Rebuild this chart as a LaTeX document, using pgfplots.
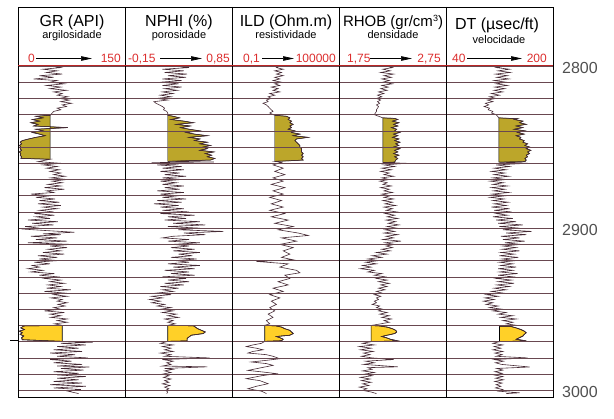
\documentclass[border=0pt]{standalone}
\usepackage{pgfplots}
\usepackage{pgfplotstable}
\pgfplotsset{compat=1.18}
\usetikzlibrary{arrows.meta}
\usepackage{fontspec}
\setmainfont{Liberation Sans}

\definecolor{curvec}{RGB}{70,42,52}
\definecolor{gridc}{RGB}{105,72,80}
\definecolor{olivef}{RGB}{188,166,42}
\definecolor{yellowf}{RGB}{255,208,40}
\definecolor{scalered}{RGB}{220,45,45}
\definecolor{depthc}{RGB}{80,80,80}

\pgfplotstableread{
d v
2800 45
2801 60
2802 35
2803 55
2804 40
2805 62
2806 30
2807 50
2808 22
2809 55
2810 45
2811 65
2812 40
2813 60
2814 45
2815 68
2816 50
2817 62
2818 55
2819 70
2820 58
2821 72
2822 60
2823 75
2824 62
2825 68
2826 55
2827 60
2828 50
2829 48
2830.4 45
2831 25
2832 35
2833 20
2834 30
2835 18
2836 28
2837 22
2838 70
2839 25
2840 35
2841 20
2842 30
2843 38
2844 25
2845 15
2846 6
2847 3
2848 5
2849 2
2850 4
2851 3
2852 5
2853 2
2854 4
2855 3
2856 5
2857 4
2857.5 45
2859 28
2860 60
2861 35
2862 55
2863 40
2864 58
2865 45
2866 60
2867 50
2868 66
2869 46
2870 69
2871 48
2872 62
2873 42
2874 60
2875 37
2876 65
2877 40
2878 50
2879 18
2880 46
2881 25
2882 52
2883 30
2884 58
2885 28
2886 60
2887 35
2888 55
2889 30
2890 50
2891 23
2892 51
2893 25
2894 45
2895 14
2896 56
2897 20
2898 50
2899 10
2900 30
2900.5 5
2901.5 40
2902.5 79
2903.5 35
2904 60
2905 18
2906 55
2907 25
2908 69
2909 14
2910 74
2911 45
2912 69
2913 42
2914 60
2915 35
2916 65
2917 28
2918 55
2919 30
2920 56
2921 23
2922 45
2923 20
2924 30
2925 14
2926 35
2927 18
2928 51
2929 30
2930 55
2931 37
2932 60
2933 45
2934 65
2935 42
2936 60
2937 40
2938 74
2939 37
2940 65
2941 50
2942 69
2943 46
2944 62
2945 55
2946 69
2947 56
2948 66
2949 50
2950 60
2951 37
2952 65
2953 45
2954 60
2955 46
2956 69
2957 55
2958 69
2959 51
2959.9 62
2960.3 8
2961.5 4
2962.5 9
2963.5 2
2964.5 6
2965.5 3
2966.5 8
2967.5 5
2968.8 6
2969.8 62
2970.3 105
2971 60
2972 95
2973 55
2974 85
2975 50
2976 90
2977 45
2978 80
2979 55
2980 98
2981 45
2982 75
2983 50
2984 90
2985 55
2985.6 100
2986.5 60
2987.5 92
2988.5 50
2989.5 85
2990.5 55
2991.5 95
2992.5 55
2993.5 85
2994.5 50
2995.5 90
2996.5 45
2997.5 95
2998.5 50
2999.5 88
3000.5 70
3002 85
}\grdata

\pgfplotstableread{
d v
2800 0.30
2801 0.45
2802 0.20
2803 0.40
2804 0.22
2805 0.43
2806 0.25
2807 0.42
2808 0.20
2809 0.38
2810 0.18
2811 0.35
2812 0.20
2813 0.38
2814 0.22
2815 0.34
2816 0.20
2817 0.30
2818 0.18
2819 0.28
2820 0.15
2821 0.25
2822 0.12
2823 0.14
2824 0.17
2825 0.20
2826 0.22
2827 0.21
2828 0.24
2829 0.25
2830.4 0.25
2831 0.30
2832 0.36
2833 0.28
2834 0.40
2835 0.49
2836 0.33
2837 0.46
2838 0.37
2839 0.45
2840 0.55
2841 0.42
2842 0.50
2843 0.62
2844 0.45
2845 0.55
2846 0.50
2847 0.62
2848 0.55
2849 0.65
2850 0.58
2851 0.62
2852 0.55
2853 0.68
2854 0.60
2855 0.66
2856 0.62
2857 0.69
2858 0.65
2858.8 0.25
2859.2 0.68
2859.6 0.10
2860.5 0.35
2861 0.15
2862 0.38
2863 0.20
2864 0.40
2865 0.18
2866 0.36
2867 0.22
2868 0.42
2869 0.20
2870 0.38
2871 0.18
2872 0.33
2873 0.20
2874 0.40
2875 0.22
2876 0.36
2877 0.15
2878 0.40
2879 0.18
2880 0.35
2881 0.20
2882 0.42
2883 0.15
2884 0.38
2885 0.12
2886 0.35
2887 0.18
2888 0.40
2889 0.20
2890 0.45
2891 0.18
2892 0.50
2893 0.25
2894 0.42
2895 0.22
2896 0.55
2897 0.30
2898 0.60
2899 0.25
2900 0.55
2901 0.35
2902 0.77
2903 0.40
2904 0.60
2905 0.30
2906 0.20
2907 0.45
2908 0.25
2909 0.55
2910 0.30
2911 0.45
2912 0.28
2913 0.50
2914 0.30
2915 0.55
2916 0.35
2917 0.48
2918 0.28
2919 0.52
2920 0.32
2921 0.45
2922 0.25
2923 0.55
2924 0.30
2925 0.50
2926 0.22
2927 0.45
2928 0.28
2929 0.50
2930 0.20
2931 0.42
2932 0.25
2933 0.45
2934 0.22
2935 0.40
2936 0.18
2937 0.35
2938 0.20
2939 0.30
2940 0.15
2941 0.28
2942 0.10
2943 0.20
2944 0.08
2945 0.18
2946 0.10
2947 0.22
2948 0.15
2949 0.28
2950 0.18
2951 0.30
2952 0.20
2953 0.33
2954 0.25
2955 0.35
2956 0.22
2957 0.30
2958 0.25
2959 0.32
2959.9 0.25
2960.2 0.49
2962 0.53
2964 0.60
2965 0.58
2966 0.47
2968 0.43
2969.5 0.43
2969.8 0.25
2971 0.18
2972 0.30
2973 0.20
2974 0.28
2975 0.22
2976 0.30
2977 0.18
2978 0.28
2979 0.22
2980 0.64
2981 0.20
2982 0.30
2983 0.24
2984 0.28
2985 0.20
2985.5 0.62
2986.5 0.22
2987 0.30
2988 0.22
2989 0.28
2990 0.20
2991 0.26
2992 0.21
2993 0.28
2994 0.22
2995 0.26
2996 0.20
2997 0.27
2998 0.22
2999 0.26
3000 0.23
3001 0.25
3002 0.24
}\nphidata

\pgfplotstableread{
d v
2800 48
2801 31
2802 74
2803 25
2804 60
2805 31
2806 74
2807 25
2808 48
2809 20
2810 60
2811 25
2812 48
2813 16
2814 39
2815 20
2816 48
2817 13
2818 25
2819 10.6
2820 16
2821 8.5
2822 10.6
2823 5.5
2824 8.5
2825 10.6
2826 13
2827 16
2828 20
2829 13
2830.4 25
2831 114
2832 175
2833 141
2834 218
2835 175
2836 270
2837 175
2838 218
2839 141
2840 335
2841 218
2842 640
2843 270
2844 1884
2845 416
2846 335
2847 416
2848 516
2849 640
2850 640
2851 794
2852 794
2853 794
2854 986
2855 794
2856 986
2857 794
2858 986
2858.5 141
2858.8 25
2859.5 60
2861 20
2863 74
2865 25
2867 92
2869 20
2871 74
2873 16
2875 92
2877 20
2879 74
2881 13
2883 60
2885 16
2887 74
2889 13
2891 92
2893 16
2895 141
2897 25
2899 270
2901 39
2903 516
2904.5 1884
2906 60
2908 416
2910 48
2912 270
2914 74
2916 175
2918 60
2919.5 270
2920.5 2.3
2922 141
2924 48
2926 416
2927.5 640
2929 92
2931 175
2933 39
2935 141
2937 20
2939 74
2941 13
2943 48
2945 16
2947 31
2949 13
2951 25
2953 10.6
2955 20
2957 8.5
2959 13
2959.9 6.9
2960.3 31
2961 60
2962 92
2963 175
2964 218
2965 270
2966 175
2966.8 31
2967.5 48
2968.5 74
2969.4 60
2969.8 6.9
2971 4.5
2972 1.5
2973 0.64
2974 2.3
2975 5.5
2976 1.5
2977 0.79
2978 8.5
2979 20
2980.5 48
2981.5 8.5
2982.5 1.22
2983.5 8.5
2984.6 20
2986 4.5
2987.7 0.79
2988.7 5.5
2989.7 31
2991 4.5
2992.8 0.64
2994 3.6
2995.9 10.6
2997.5 2.3
2999 0.79
3000.5 4.5
3002 8.5
}\ilddata

\pgfplotstableread{
d v
2800 2.19
2801 2.25
2802 2.16
2803 2.23
2804 2.14
2805 2.26
2806 2.17
2807 2.24
2808 2.15
2809 2.22
2810 2.16
2811 2.25
2812 2.15
2813 2.21
2814 2.14
2815 2.20
2816 2.12
2817 2.17
2818 2.11
2819 2.15
2820 2.10
2821 2.14
2822 2.11
2823 2.13
2824 2.10
2825 2.12
2826 2.11
2827 2.10
2828 2.10
2829 2.09
2830 2.08
2831 2.12
2832 2.16
2832.3 2.27
2833 2.30
2834 2.25
2835 2.31
2836 2.26
2837 2.30
2838 2.24
2839 2.29
2840 2.27
2841 2.32
2842 2.26
2843 2.30
2844 2.25
2845 2.31
2846 2.27
2847 2.32
2848 2.28
2849 2.31
2850 2.26
2851 2.32
2852 2.27
2853 2.30
2854 2.26
2855 2.31
2856 2.27
2857 2.30
2858 2.28
2859.3 2.27
2859.5 2.16
2860 2.38
2861 2.17
2862 2.27
2863 2.15
2864 2.24
2865 2.14
2866 2.22
2867 2.17
2868 2.26
2869 2.15
2870 2.22
2871 2.13
2872 2.20
2873 2.16
2874 2.24
2875 2.14
2876 2.22
2877 2.17
2878 2.25
2879 2.15
2880 2.23
2881 2.17
2882 2.26
2883 2.16
2884 2.25
2885 2.18
2886 2.28
2887 2.17
2888 2.25
2889 2.19
2890 2.29
2891 2.18
2892 2.27
2893 2.20
2894 2.30
2895 2.19
2896 2.28
2897 2.21
2898 2.31
2899 2.20
2900 2.29
2901 2.18
2902 2.27
2903 2.17
2904 2.30
2905 2.19
2906 2.26
2907 2.16
2908 2.33
2909 2.18
2910 2.27
2911 2.19
2912 2.25
2913 2.15
2914 2.23
2915 2.10
2916 2.20
2917 2.06
2918 2.15
2919 2.02
2920 2.12
2921 2.00
2922 2.10
2923 1.97
2924 2.05
2925 1.95
2926 2.08
2927 2.02
2928 2.15
2929 2.08
2930 2.18
2931 2.10
2932 2.20
2933 2.12
2934 2.22
2935 2.14
2936 2.20
2937 2.12
2938 2.18
2939 2.10
2940 2.15
2941 2.08
2942 2.14
2943 2.10
2944 2.12
2945 2.08
2946 2.10
2947 2.06
2948 2.13
2949 2.10
2950 2.16
2951 2.12
2952 2.20
2953 2.13
2954 2.22
2955 2.15
2956 2.24
2957 2.17
2958 2.22
2959 2.14
2960 2.05
2960.3 2.13
2961 2.20
2962 2.25
2963 2.28
2964 2.29
2965 2.27
2966 2.20
2966.8 2.15
2967.5 2.19
2968.5 2.23
2969.5 2.30
2970 2.05
2971 1.97
2972 2.08
2973 1.94
2974 2.05
2975 1.95
2976 2.07
2977 1.98
2978 2.04
2979 1.96
2980 2.06
2981 2.26
2982 2.00
2983 2.08
2984 1.98
2985.5 2.30
2986 2.02
2987 2.06
2988 1.97
2989 2.08
2990 1.99
2991 2.06
2992 1.95
2993 2.04
2994 1.96
2995 2.05
2996 1.97
2997 2.03
2998 1.94
2999 2.01
3000 1.97
3001 2.05
3002 2.10
}\rhobdata

\pgfplotstableread{
d v
2800 130
2801 115
2802 135
2803 118
2804 136
2805 114
2806 132
2807 116
2808 134
2809 112
2810 130
2811 115
2812 132
2813 113
2814 128
2815 112
2816 125
2817 108
2818 120
2819 105
2820 115
2821 102
2822 110
2823 99
2824 104
2825 97
2826 105
2827 103
2828 110
2829 108
2830 115
2831 117
2832 119
2832.5 147
2833 142
2834 155
2835 150
2836 160
2837 145
2838 155
2839 142
2840 158
2841 147
2842 157
2843 145
2844 152
2845 150
2846 157
2847 155
2848 162
2849 158
2850 165
2851 160
2852 167
2853 162
2854 165
2855 160
2856 162
2857 158
2858 160
2859 158
2859.3 119
2860 162
2861 115
2862 135
2863 112
2864 130
2865 108
2866 128
2867 112
2868 134
2869 110
2870 130
2871 106
2872 126
2873 110
2874 132
2875 108
2876 128
2877 111
2878 134
2879 109
2880 130
2881 106
2882 127
2883 110
2884 133
2885 112
2886 130
2887 108
2888 135
2889 112
2890 138
2891 115
2892 132
2893 110
2894 140
2895 115
2896 145
2897 118
2898 155
2899 120
2900 150
2901 125
2902 168
2903 130
2904 160
2905 122
2906 150
2907 125
2908 158
2909 128
2910 152
2911 125
2912 145
2913 124
2914 150
2915 122
2916 142
2917 120
2918 148
2919 124
2920 145
2921 120
2922 140
2923 122
2924 145
2925 118
2926 140
2927 120
2928 147
2929 118
2930 140
2931 115
2932 138
2933 118
2934 142
2935 116
2936 135
2937 112
2938 130
2939 108
2940 125
2941 100
2942 118
2943 98
2944 112
2945 96
2946 110
2947 100
2948 118
2949 105
2950 125
2951 110
2952 130
2953 118
2954 140
2955 122
2956 145
2957 125
2958 140
2959 130
2960 147
2960.5 120
2960.6 137
2961.5 145
2962.5 152
2963.5 157
2964.5 160
2965.5 157
2966.5 155
2967.5 150
2968.5 145
2969.5 160
2970 120
2971 110
2972 125
2973 112
2974 122
2975 110
2976 125
2977 113
2978 124
2979 115
2980 162
2981 112
2982 126
2983 114
2984 123
2985.6 165
2986.5 116
2987.5 125
2988.5 113
2989.5 124
2990.5 112
2991.5 125
2992.5 114
2993.5 126
2994.5 113
2995.5 124
2996.5 115
2997.5 122
2998.5 114
2999.5 125
3000.5 118
3001.5 150
3002 130
}\dtdata

\pgfplotsset{
  track/.style={
    width=107pt, height=332pt, scale only axis,
    anchor=north west,
    y dir=reverse, ymin=2799.4, ymax=3004.1,
    xtick=\empty,
    ytick={2800,2810,...,3000},
    yticklabels={},
    major tick length=0pt,
    ymajorgrids,
    grid style={gridc, line width=0.6pt},
    axis line style={black, line width=0.8pt},
    axis on top,
    clip=true,
  },
  logcurve/.style={curvec, line width=0.6pt, no markers},
}

\begin{document}
\begin{tikzpicture}
\useasboundingbox (0pt,0pt) rectangle (614pt,-419pt);

% GR
\begin{axis}[track, at={(18pt,-65pt)}, xmin=0, xmax=150]
\addplot[fill=olivef, draw=black, line width=0.4pt] table[x=v,y=d, restrict y to domain=2830.4:2857.5] {\grdata} -- cycle;
\addplot[fill=yellowf, draw=black, line width=0.6pt] table[x=v,y=d, restrict y to domain=2959.9:2969.8] {\grdata} -- cycle;
\addplot[logcurve] table[x=v,y=d] {\grdata};
\end{axis}

% NPHI
\begin{axis}[track, at={(125pt,-65pt)}, xmin=-0.15, xmax=0.85]
\addplot[fill=olivef, draw=black, line width=0.4pt] table[x=v,y=d, restrict y to domain=2830.4:2858.8] {\nphidata} -- cycle;
\addplot[fill=yellowf, draw=black, line width=0.6pt] table[x=v,y=d, restrict y to domain=2959.9:2969.8] {\nphidata} -- cycle;
\addplot[logcurve] table[x=v,y=d] {\nphidata};
\end{axis}

% ILD
\begin{axis}[track, at={(232pt,-65pt)}, xmode=log, xmin=0.1, xmax=100000]
\addplot[fill=olivef, draw=black, line width=0.4pt] table[x=v,y=d, restrict y to domain=2830.4:2858.8] {\ilddata} -- cycle;
\addplot[fill=yellowf, draw=black, line width=0.6pt] table[x=v,y=d, restrict y to domain=2959.9:2969.8] {\ilddata} -- cycle;
\addplot[logcurve] table[x=v,y=d] {\ilddata};
\end{axis}

% RHOB
\begin{axis}[track, at={(339pt,-65pt)}, xmin=1.75, xmax=2.75]
\addplot[fill=olivef, draw=black, line width=0.4pt] table[x=v,y=d, restrict y to domain=2832:2859.5] {\rhobdata} -- cycle;
\addplot[fill=yellowf, draw=black, line width=0.6pt] table[x=v,y=d, restrict y to domain=2960:2970] {\rhobdata} -- cycle;
\addplot[logcurve] table[x=v,y=d] {\rhobdata};
\end{axis}

% DT
\begin{axis}[track, at={(446pt,-65pt)}, xmin=40, xmax=200]
\addplot[fill=olivef, draw=black, line width=0.4pt] table[x=v,y=d, restrict y to domain=2832:2859.3] {\dtdata} -- cycle;
\addplot[fill=yellowf, draw=black, line width=0.6pt] table[x=v,y=d, restrict y to domain=2960.5:2970] {\dtdata} -- cycle;
\addplot[logcurve] table[x=v,y=d] {\dtdata};
\end{axis}

% header frame
\draw[line width=0.8pt] (18pt,-7pt) rectangle (553pt,-65pt);
\foreach \xx in {125,232,339,446} \draw[line width=0.8pt] (\xx pt,-7pt) -- (\xx pt,-65pt);
\draw[scalered!85!black, line width=0.9pt] (18pt,-65pt) -- (553pt,-65pt);
\draw[line width=0.8pt] (10pt,-340.5pt) -- (18pt,-340.5pt);

% titles
\begin{scope}[every node/.style={inner sep=0pt}]
\node[anchor=base] at (72pt,-27pt) {\fontsize{16pt}{18pt}\selectfont GR (API)};
\node[anchor=base] at (179pt,-27pt) {\fontsize{16pt}{18pt}\selectfont NPHI (\%)};
\node[anchor=base] at (286pt,-27pt) {\fontsize{16pt}{18pt}\selectfont ILD (Ohm.m)};
\node[anchor=base] at (393pt,-27pt) {\fontsize{15pt}{18pt}\selectfont RHOB (gr/cm{\fontsize{9pt}{9pt}\selectfont\raisebox{5.5pt}{3}})};
\node[anchor=base] at (497pt,-30pt) {\fontsize{16pt}{18pt}\selectfont DT (µsec/ft)};

\node[anchor=base] at (72pt,-39pt) {\fontsize{11pt}{13pt}\selectfont argilosidade};
\node[anchor=base] at (179pt,-39pt) {\fontsize{11pt}{13pt}\selectfont porosidade};
\node[anchor=base] at (286pt,-39pt) {\fontsize{11pt}{13pt}\selectfont resistividade};
\node[anchor=base] at (393pt,-39pt) {\fontsize{11pt}{13pt}\selectfont densidade};
\node[anchor=base] at (499pt,-44pt) {\fontsize{11pt}{13pt}\selectfont velocidade};

% scales
\begin{scope}[every node/.append style={text=scalered, font=\fontsize{12pt}{14pt}\selectfont}]
\node[anchor=base west] at (28pt,-63pt) {0};
\node[anchor=base east] at (121pt,-63pt) {150};
\node[anchor=base west] at (128pt,-63pt) {-0,15};
\node[anchor=base east] at (230pt,-63pt) {0,85};
\node[anchor=base west] at (243pt,-63pt) {0,1};
\node[anchor=base east] at (336pt,-63pt) {100000};
\node[anchor=base west] at (347pt,-63pt) {1,75};
\node[anchor=base east] at (441pt,-63pt) {2,75};
\node[anchor=base west] at (452pt,-63pt) {40};
\node[anchor=base east] at (547pt,-63pt) {200};
\end{scope}
\end{scope}
\begin{scope}[line width=0.7pt, -{Triangle[length=11pt,width=4.5pt]}]
\draw (36pt,-58.5pt) -- (92pt,-58.5pt);
\draw (160pt,-58.5pt) -- (202pt,-58.5pt);
\draw (262pt,-58.5pt) -- (294pt,-58.5pt);
\draw (370pt,-58.5pt) -- (412pt,-58.5pt);
\draw (467pt,-58.5pt) -- (522pt,-58.5pt);
\end{scope}

% depth labels
\begin{scope}[every node/.style={inner sep=0pt, anchor=base west, text=depthc, font=\fontsize{16pt}{18pt}\selectfont}]
\node at (562pt,-74pt) {2800};
\node at (562pt,-236pt) {2900};
\node at (562pt,-398pt) {3000};
\end{scope}
\end{tikzpicture}
\end{document}
